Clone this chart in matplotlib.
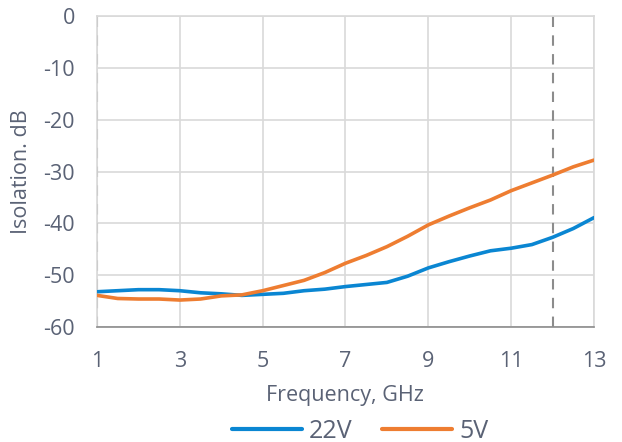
import matplotlib
matplotlib.use("Agg")
import matplotlib.pyplot as plt
from matplotlib.lines import Line2D

freq = [1, 1.5, 2, 2.5, 3, 3.5, 4, 4.5, 5, 5.5, 6, 6.5, 7, 7.5, 8, 8.5, 9,
        9.5, 10, 10.5, 11, 11.5, 12, 12.5, 13]
iso_22v = [-53.2, -53.0, -52.8, -52.8, -53.0, -53.4, -53.6, -53.9, -53.7, -53.5,
           -53.0, -52.7, -52.2, -51.8, -51.4, -50.2, -48.6, -47.4, -46.3, -45.3,
           -44.8, -44.1, -42.7, -41.0, -38.9]
iso_5v = [-53.9, -54.5, -54.6, -54.6, -54.8, -54.6, -54.0, -53.8, -53.0, -52.0,
          -51.0, -49.5, -47.7, -46.2, -44.5, -42.5, -40.3, -38.6, -37.0, -35.5,
          -33.7, -32.2, -30.7, -29.1, -27.8]
series_names = ["22V", "5V"]
xticks = [1, 3, 5, 7, 9, 11, 13]
yticks = [0, -10, -20, -30, -40, -50, -60]
marker_x = [1, 12]

plt.rcParams['font.family'] = ['Open Sans', 'DejaVu Sans']
text_c = "#5a6275"
blue = "#0a86d2"
orange = "#ee7d31"

fig = plt.figure(figsize=(6.22, 4.42), dpi=100)
ax = fig.add_axes([97/622, 1 - 327/442, (594-97)/622, (327-16)/442])

ax.plot(freq, iso_22v, color=blue, lw=2.6, solid_capstyle='round', zorder=3)
ax.plot(freq, iso_5v, color=orange, lw=2.6, solid_capstyle='round', zorder=3)

for xv in marker_x:
    ax.axvline(xv, color="#8c8c8c", lw=1.5, ls=(0, (5, 4)), zorder=2.5)

ax.set_xlim(1, 13)
ax.set_ylim(-60, 0)
ax.set_xticks(xticks)
ax.set_yticks(yticks)
ax.set_xticklabels([str(x) for x in xticks])
ax.set_yticklabels([str(y) for y in yticks])
ax.grid(True, color="#d9d9d9", lw=1.2, zorder=0)
ax.set_axisbelow(True)
for s in ['top', 'right', 'left']:
    ax.spines[s].set_color("#d9d9d9")
    ax.spines[s].set_linewidth(1.2)
ax.spines['bottom'].set_color("#8c8c8c")
ax.spines['bottom'].set_linewidth(1.2)
ax.tick_params(axis='both', length=0, labelsize=15.5, colors=text_c)
ax.tick_params(axis='y', pad=16)
ax.tick_params(axis='x', pad=17)

ax.set_xlabel("Frequency, GHz", fontsize=15.5, color=text_c)
ax.set_ylabel("Isolation. dB", fontsize=15.5, color=text_c)
ax.xaxis.set_label_coords((345 - 97) / (594 - 97), -(395 - 327) / (327 - 16))
ax.yaxis.set_label_coords(-(97 - 22) / (594 - 97), (327 - 172) / (327 - 16))
ax.xaxis.label.set_verticalalignment('center')
ax.yaxis.label.set_verticalalignment('center')

handles = [Line2D([0], [0], color=blue, lw=3, solid_capstyle='round'),
           Line2D([0], [0], color=orange, lw=3, solid_capstyle='round')]
leg = fig.legend(handles, series_names, loc='center', bbox_to_anchor=(360/622, 1 - 431/442),
                 ncol=2, frameon=False, fontsize=18, handlelength=2.8, handletextpad=0.3,
                 columnspacing=1.15, labelcolor=text_c)

fig.savefig("out.png", dpi=100)
